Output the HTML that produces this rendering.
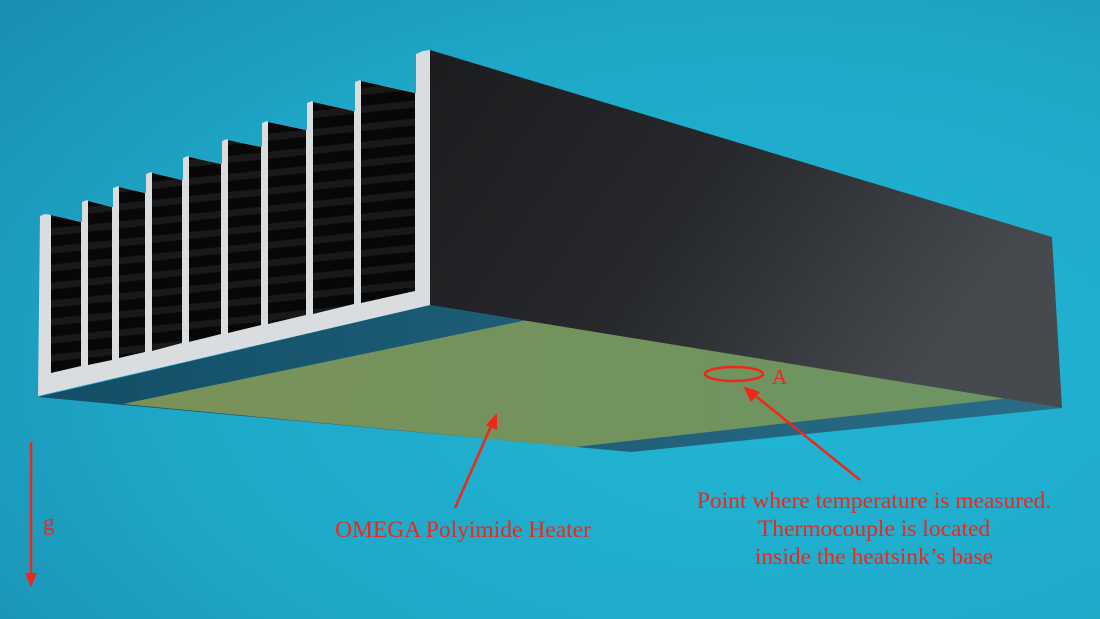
<!DOCTYPE html>
<html><head><meta charset="utf-8"><style>
html,body{margin:0;padding:0;width:1100px;height:619px;overflow:hidden}
svg{display:block}
text{font-family:"Liberation Serif",serif;fill:#f0261a}
</style></head><body>
<svg width="1100" height="619" viewBox="0 0 1100 619">
<defs>
<radialGradient id="bg" cx="0.7" cy="0.6" r="0.9">
<stop offset="0" stop-color="#22b6d6"/><stop offset="0.6" stop-color="#1ea8c8"/><stop offset="1" stop-color="#1a8fb3"/>
</radialGradient>
<linearGradient id="dark" x1="0" y1="0" x2="1" y2="0.4">
<stop offset="0" stop-color="#1b1c1e"/><stop offset="0.5" stop-color="#26282b"/><stop offset="1" stop-color="#464a4e"/>
</linearGradient>
<linearGradient id="grn" x1="0" y1="0" x2="1" y2="0">
<stop offset="0" stop-color="#7a9258"/><stop offset="1" stop-color="#6c9462"/>
</linearGradient>
<linearGradient id="blu" x1="0" y1="0" x2="1" y2="0">
<stop offset="0" stop-color="#124e66"/><stop offset="1" stop-color="#2a6d88"/>
</linearGradient>
<pattern id="str" width="10" height="18" patternUnits="userSpaceOnUse" patternTransform="skewY(-6)">
<rect width="10" height="18" fill="#070707"/><rect y="0" width="10" height="7" fill="#191919"/>
</pattern>
</defs>
<rect width="1100" height="619" fill="url(#bg)"/>
<polygon points="38,397 430,305 1062,408 631,452" fill="url(#blu)"/>
<polygon points="123,404 527,320 1010,398 575,447" fill="url(#grn)"/>
<polygon points="430,50 1052,237 1062,408 430,305" fill="url(#dark)"/>
<path d="M38,396 L40,216 L45,214 L51,215 L82,222 L82,202 L87,200 L88,201 L113,207 L113,188 L118,186 L119,187 L146,193 L146,174 L151,172 L152,173 L183,180 L183,158 L188,156 L189,157 L222,164 L222,141 L227,139 L228,140 L262,147 L262,123 L267,121 L268,122 L307,130 L307,103 L312,101 L313,102 L355,111 L355,82 L360,80 L361,81 L416,93 L416,54 L423,51 L430,50 L430,305 Z" fill="#d9dde0"/>
<g fill="url(#str)">
<polygon points="51,215 81,222 81,366 51,373"/>
<polygon points="88,201 112,207 112,360 88,365"/>
<polygon points="119,187 145,193 145,352 119,358"/>
<polygon points="152,173 182,180 182,343 152,351"/>
<polygon points="189,157 221,164 221,334 189,342"/>
<polygon points="228,140 261,147 261,325 228,333"/>
<polygon points="268,122 306,130 306,315 268,324"/>
<polygon points="313,102 354,111 354,304 313,314"/>
<polygon points="361,81 415,93 415,291 361,303"/>
</g>
<g stroke="#f0261a" stroke-width="2.5" fill="none">
<ellipse cx="734" cy="374" rx="29" ry="7"/>
<line x1="860" y1="480" x2="752" y2="393"/>
<line x1="455" y1="508" x2="492" y2="424"/>
<line x1="31" y1="442" x2="31" y2="574"/>
</g>
<g fill="#f0261a">
<polygon points="743,386 760,392 751,402"/>
<polygon points="497,413 497,430 486,425"/>
<polygon points="25,573 37,573 31,587"/>
</g>
<text x="772" y="384" font-size="21">A</text>
<text x="43" y="530" font-size="23">g</text>
<text x="463" y="537" font-size="23.5" text-anchor="middle">OMEGA Polyimide Heater</text>
<text x="874" y="508" font-size="23.5" text-anchor="middle">Point where temperature is measured.</text>
<text x="874" y="536" font-size="23.5" text-anchor="middle">Thermocouple is located</text>
<text x="874" y="564" font-size="23.5" text-anchor="middle">inside the heatsink’s base</text>
</svg>
</body></html>
